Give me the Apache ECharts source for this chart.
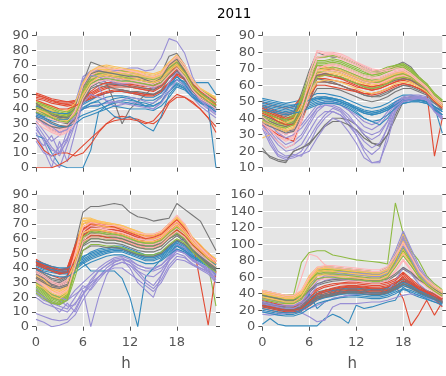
<!DOCTYPE html>
<html>
<head>
<meta charset="utf-8">
<script src="https://cdn.jsdelivr.net/npm/echarts@6/dist/echarts.min.js"></script>
<style>
  html, body { margin: 0; padding: 0; background: #ffffff; }
  #chart { width: 446px; height: 376px; }
</style>
</head>
<body>
<div id="chart"></div>
<script>
// Hourly daily profiles for 2011, one panel per quarter.
// Each row is one day (hours 0..23); rows run Monday..Sunday in weekly blocks.
const figureTitle = '2011';
const xLabel = 'h';
const hours = [0,1,2,3,4,5,6,7,8,9,10,11,12,13,14,15,16,17,18,19,20,21,22,23];
const xTicks = [0, 6, 12, 18];
const yTicksQ1 = [0,10,20,30,40,50,60,70,80,90];
const yTicksQ2 = [10,20,30,40,50,60,70,80,90];
const yTicksQ3 = [0,10,20,30,40,50,60,70,80,90];
const yTicksQ4 = [0,20,40,60,80,100,120,140,160];
const palette = ['#E24A33','#348ABD','#988ED5','#777777','#FBC15E','#8EBA42','#FFB5B8'];

const q1 = [
  [51,49,47,46,45,46,48,51,54,56,57,57,56,55,54,54,57,63,69,64,56,51,48,45],
  [41,39,38,37,37,40,44,47,49,51,52,52,51,50,48,48,51,57,62,58,52,48,46,43],
  [32,25,18,22,29,44,62,66,65,63,61,60,61,62,60,58,62,69,74,67,56,49,45,41],
  [42,38,35,33,34,40,58,72,70,68,67,66,65,64,62,61,64,76,78,70,58,52,48,45],
  [44,42,40,37,36,42,56,65,68,68,67,66,66,65,63,62,64,71,75,69,58,53,50,47],
  [43,41,39,37,36,41,54,63,66,66,65,65,64,63,62,61,63,70,74,68,58,53,49,46],
  [38,34,30,28,29,38,55,64,67,67,66,65,65,64,62,61,63,70,75,69,58,52,48,44],

  [50,48,46,45,45,45,47,50,53,55,56,56,55,54,53,53,56,62,67,63,55,50,47,44],
  [39,37,35,34,34,37,41,44,46,48,49,49,48,47,46,46,49,55,60,56,50,47,45,42],
  [28,18,5,0,15,30,50,62,63,61,60,59,60,60,59,57,61,67,71,65,55,48,44,40],
  [35,30,26,24,26,32,50,60,62,58,45,30,40,45,50,55,60,70,72,64,54,48,44,40],
  [42,40,38,35,34,40,55,63,66,67,66,65,64,63,62,61,63,69,73,67,57,52,49,45],
  [40,38,36,34,33,39,52,61,64,64,63,63,62,62,61,60,62,68,72,66,56,51,48,44],
  [36,32,27,25,27,36,53,62,65,65,65,64,63,62,61,60,62,68,72,66,56,50,47,43],

  [49,48,46,44,44,45,46,49,52,54,55,55,55,54,53,52,55,61,66,62,54,49,46,43],
  [22,20,10,2,0,0,0,12,38,42,45,46,46,45,44,42,45,52,58,55,50,46,44,40],
  [24,12,0,18,4,24,45,58,60,58,57,56,57,57,56,55,59,65,70,64,54,47,42,38],
  [40,37,34,31,30,36,48,58,60,60,59,58,58,57,56,55,58,66,70,64,55,50,46,43],
  [45,43,41,39,38,43,57,66,68,69,68,67,67,66,65,64,66,72,77,70,59,54,51,47],
  [44,42,40,38,37,42,55,64,67,67,66,66,65,64,63,62,64,71,76,69,59,53,50,46],
  [34,30,26,24,26,34,50,60,63,64,63,62,62,61,60,59,61,67,71,65,55,49,46,42],

  [20,12,8,10,10,8,10,16,24,30,34,35,34,33,31,30,34,44,48,48,45,40,34,24],
  [38,36,34,33,33,36,40,44,45,40,35,33,35,32,28,25,35,50,56,54,48,45,42,38],
  [30,22,14,8,20,35,55,60,55,45,42,43,45,44,42,40,45,55,65,60,50,44,40,36],
  [38,34,31,29,28,35,46,55,58,57,57,56,55,55,54,53,56,64,68,62,54,48,45,42],
  [43,41,39,36,35,41,56,64,67,67,66,65,65,64,63,62,64,70,74,68,57,52,49,46],
  [42,40,37,35,34,40,53,62,65,66,65,64,64,63,62,61,63,69,73,67,57,52,48,45],
  [37,33,29,27,28,37,54,63,66,66,66,65,64,63,62,61,63,69,74,68,57,51,48,44],

  [0,0,0,2,5,10,15,20,25,30,32,33,33,32,30,32,38,45,50,48,44,40,34,28],
  [42,40,38,37,37,39,43,46,49,51,52,53,52,51,50,50,52,57,60,59,58,58,58,50],
  [26,20,12,10,18,40,60,66,66,65,66,67,68,68,66,67,75,88,86,78,62,52,46,42],
  [41,38,36,34,33,37,50,60,62,62,61,60,59,58,57,56,59,67,71,65,56,50,47,44],
  [41,39,37,34,33,39,53,62,65,66,65,64,63,63,62,61,63,69,73,67,57,51,48,44],
  [39,37,35,33,32,37,50,59,62,63,62,61,61,60,59,58,60,66,70,64,55,50,46,43],
  [35,31,28,26,27,35,52,61,64,65,64,63,63,62,61,60,62,68,72,66,56,50,47,43],

  [48,47,45,44,43,44,45,47,49,51,52,52,51,50,49,49,52,58,63,60,53,48,45,42],
  [36,34,32,31,31,33,36,38,40,42,44,45,44,43,42,42,45,52,57,54,49,45,42,0],
  [20,15,22,10,25,35,40,42,43,44,45,44,43,42,41,40,44,52,60,56,48,42,38,34],
  [44,40,37,35,34,38,52,62,64,63,62,61,60,60,59,58,61,68,72,66,57,51,48,45],
  [40,38,36,33,32,38,52,60,63,64,63,62,61,61,60,59,61,67,71,65,56,50,47,43],
  [45,43,41,39,38,42,54,62,64,65,64,63,63,62,61,60,62,68,72,66,57,52,49,46],
  [33,29,25,23,25,33,49,58,61,62,61,60,60,59,58,57,59,65,70,64,54,48,45,41],

  [47,46,44,43,42,43,46,52,56,58,58,57,57,56,55,56,58,64,70,65,57,52,49,46],
  [37,35,34,33,33,36,40,42,42,45,47,48,47,45,42,44,48,56,62,57,50,47,44,41],
  [35,30,28,24,26,38,56,63,62,60,58,57,58,58,56,54,58,64,68,62,52,46,43,39],
  [43,40,36,34,35,41,55,64,66,65,64,63,62,62,60,58,61,70,74,66,56,50,47,44],
  [46,44,42,40,39,44,58,66,69,70,69,68,67,66,64,63,65,72,76,70,60,54,51,48],
  [41,39,37,36,35,40,52,60,62,63,62,62,61,60,59,58,60,66,70,65,56,51,47,44],
  [39,36,33,31,31,39,56,65,68,68,67,67,66,65,63,62,64,71,76,70,59,53,49,45],

  [46,44,42,40,40,42,45,48,50,52,53,53,52,51,50,50,53,58,64,61,54,49,46,43],
  [35,33,30,28,28,30,34,36,38,40,42,41,40,40,40,39,42,48,55,53,48,44,42,40],
  [18,10,8,14,20,30,44,50,48,46,45,46,48,47,45,44,48,58,66,62,52,46,41,37],
  [34,31,28,27,28,33,45,54,56,55,54,53,52,52,51,50,53,61,66,60,52,47,44,41],
  [40,38,35,32,31,37,50,58,62,63,62,61,60,60,59,58,60,66,70,64,55,50,46,42],
  [38,36,34,32,31,36,48,57,60,61,60,59,59,58,57,56,58,64,68,63,54,49,45,42],
  [31,27,24,22,24,31,47,56,59,60,59,58,58,57,56,55,57,63,68,62,53,47,44,40]
];

const q2 = [
  [48,46,44,43,44,52,62,72,71,70,68,66,64,62,61,62,64,66,67,65,62,59,52,48],
  [52,51,50,49,50,51,53,55,55,54,53,51,49,47,46,47,49,52,54,54,53,52,49,47],
  [42,37,33,30,33,36,42,48,50,50,48,45,42,38,36,38,44,50,53,54,54,53,47,42],
  [46,44,42,41,43,55,69,80,78,77,77,75,73,71,69,68,70,72,74,71,65,60,54,50],
  [44,42,40,38,40,50,61,70,71,71,70,68,66,64,63,64,66,68,68,66,63,60,54,50],
  [45,43,41,40,42,52,65,75,75,76,75,73,71,69,67,68,70,72,73,70,65,61,55,51],
  [42,38,35,32,34,48,66,80,79,79,78,76,74,71,69,69,70,71,71,68,64,60,54,50],

  [50,48,47,46,47,53,61,68,67,66,64,63,61,60,59,60,62,64,65,64,62,56,17,40],
  [50,49,48,47,48,49,51,53,53,52,51,49,47,45,44,45,47,50,52,52,52,51,47,31],
  [38,28,20,17,18,17,24,34,40,44,42,36,30,22,18,22,35,48,52,53,53,52,45,40],
  [22,16,14,13,20,22,25,30,36,40,40,39,36,30,25,23,30,42,52,53,52,50,46,42],
  [40,38,36,34,36,45,56,66,67,67,66,65,63,61,60,61,63,65,66,64,61,58,52,48],
  [43,41,40,38,40,50,63,74,74,75,74,72,70,68,66,67,69,71,72,69,64,60,54,50],
  [40,36,32,28,30,44,61,76,77,78,76,74,72,69,67,67,68,69,70,67,63,59,53,49],

  [45,43,41,39,40,50,60,70,70,69,68,66,64,62,61,61,63,65,66,64,61,58,52,48],
  [49,48,47,46,47,48,50,52,52,51,50,48,46,44,43,44,46,49,51,52,51,50,47,45],
  [36,26,18,16,17,20,28,36,42,46,44,38,30,20,13,13,30,46,51,52,52,51,45,40],
  [20,17,15,14,20,22,24,30,35,38,38,36,33,28,25,24,30,40,50,51,51,50,45,41],
  [28,30,33,35,37,46,58,64,66,66,65,64,62,60,59,60,62,64,65,63,60,57,52,48],
  [44,42,40,39,41,53,67,77,77,78,77,75,73,70,68,69,71,72,73,70,65,61,55,51],
  [44,40,36,32,33,48,67,81,80,80,79,77,74,72,70,69,70,71,71,68,64,60,54,50],

  [47,45,43,42,43,50,57,64,64,63,62,61,59,58,57,58,60,62,63,62,60,57,51,47],
  [48,47,46,45,46,47,49,51,52,52,51,49,46,44,43,44,46,49,51,51,51,50,47,44],
  [40,34,28,24,26,30,38,46,50,50,48,45,40,35,33,36,42,49,52,53,53,52,46,41],
  [44,42,40,39,41,50,60,70,70,70,69,67,65,63,62,63,65,67,68,66,62,58,52,48],
  [42,40,38,36,38,48,59,68,69,69,68,66,64,62,61,62,64,66,67,65,62,59,53,49],
  [42,40,38,37,39,49,61,72,72,73,72,70,68,66,65,66,68,70,71,68,64,60,54,50],
  [36,32,29,27,29,40,55,68,70,71,70,68,66,64,63,63,65,67,68,66,62,58,52,48],

  [44,42,40,37,36,46,56,66,67,66,65,63,61,60,59,60,61,63,64,63,60,57,51,47],
  [47,46,45,44,45,46,48,50,51,51,50,48,45,43,42,43,45,48,50,51,51,50,47,44],
  [34,24,17,15,16,18,20,28,35,40,38,32,25,16,13,14,26,44,50,51,52,51,44,39],
  [42,40,38,36,38,46,55,64,63,62,60,58,56,54,53,53,55,58,60,60,58,56,51,47],
  [41,39,37,35,37,47,58,67,68,68,67,65,63,61,60,61,63,65,66,64,61,58,52,48],
  [41,39,37,36,38,48,60,70,70,71,70,68,66,64,63,64,66,68,69,67,63,59,53,49],
  [38,34,30,28,30,42,57,70,72,73,72,70,68,66,65,65,67,68,69,66,62,58,52,48],

  [36,33,30,28,26,38,50,62,62,61,60,58,57,55,55,56,58,60,61,60,58,56,50,46],
  [46,45,44,43,44,45,47,49,50,50,49,47,44,40,38,36,40,47,49,50,50,49,46,42],
  [38,32,26,22,24,28,36,44,48,48,46,42,36,30,27,30,38,48,52,52,53,52,45,40],
  [38,36,34,32,33,42,52,62,62,61,60,58,56,54,53,54,56,58,60,59,57,55,50,46],
  [39,37,35,33,35,45,56,65,66,66,65,63,61,59,58,59,61,63,64,62,60,57,51,47],
  [40,38,36,35,37,47,58,68,68,69,68,66,64,62,61,62,64,66,67,65,62,58,52,48],
  [34,30,26,22,24,38,53,66,68,69,68,66,64,62,61,61,63,65,66,64,61,57,51,47],

  [46,44,42,40,41,49,58,66,66,65,64,62,60,58,57,58,60,62,64,63,61,58,51,47],
  [51,50,49,48,48,49,51,52,53,52,50,48,46,43,42,43,45,48,51,51,51,50,47,44],
  [40,36,31,28,30,34,40,46,48,47,45,40,36,32,30,32,38,47,51,52,53,52,45,41],
  [40,38,36,35,37,46,57,66,67,66,65,63,61,59,58,59,61,63,64,63,60,57,52,48],
  [43,41,39,37,39,48,60,69,70,70,69,67,65,63,62,63,65,67,68,66,62,59,53,49],
  [44,42,40,39,41,51,64,73,73,74,73,71,69,67,66,67,69,71,72,69,64,60,54,50],
  [41,37,33,30,32,46,63,77,78,79,77,75,73,70,68,68,69,70,70,67,63,59,53,49],

  [43,41,38,36,36,44,54,60,60,59,58,57,56,55,54,55,57,59,61,60,58,55,50,46],
  [45,44,43,42,43,44,46,48,49,49,48,46,43,40,38,39,42,46,49,50,50,49,45,42],
  [36,30,24,20,21,24,32,40,44,44,42,38,32,26,22,25,34,45,50,51,52,51,44,39],
  [37,35,33,31,32,40,50,58,58,58,57,55,53,51,50,51,53,56,58,58,56,54,49,45],
  [38,36,34,32,34,43,54,62,63,63,62,60,58,56,55,56,58,61,62,61,59,56,51,47],
  [39,37,35,34,36,45,56,65,66,66,65,63,61,59,58,59,61,64,65,64,61,57,52,48],
  [37,33,29,26,28,40,56,70,72,72,71,69,67,65,64,64,66,68,69,66,62,58,52,48]
];

const q3 = [
  [45,42,40,38,40,56,70,72,71,70,69,68,66,64,62,62,65,70,74,68,60,55,50,45],
  [44,42,41,40,40,44,48,50,52,53,54,54,52,50,48,48,50,54,58,55,50,47,44,42],
  [9,7,5,4,5,12,22,30,38,42,45,46,44,40,38,38,40,45,52,50,45,42,40,36],
  [40,36,33,32,35,56,78,82,82,83,84,83,78,75,74,72,73,74,84,80,76,72,62,52],
  [30,27,22,20,24,50,74,74,72,71,70,69,67,65,63,63,65,70,75,70,61,56,50,46],
  [26,22,18,16,20,40,60,64,63,62,62,61,59,57,56,56,58,63,66,62,55,50,45,40],
  [36,33,29,27,30,48,66,68,67,66,66,65,63,61,60,60,62,67,71,66,58,53,48,44],

  [44,41,39,37,38,54,67,70,69,68,67,66,64,62,61,61,63,68,72,66,59,54,49,44],
  [43,41,40,39,39,43,46,49,51,52,53,53,51,49,47,47,49,53,57,54,49,46,43,41],
  [5,3,0,1,3,8,18,26,34,40,44,46,45,42,40,39,42,48,55,52,46,42,38,34],
  [38,34,31,30,33,48,64,68,68,67,66,65,63,60,59,59,61,66,70,65,57,52,47,43],
  [28,25,20,18,22,48,72,73,71,70,69,68,66,64,62,62,64,69,74,69,60,55,49,45],
  [24,20,16,16,20,38,56,60,60,59,59,58,56,54,53,53,55,60,63,60,53,48,42,14],
  [34,31,27,25,28,46,64,67,66,65,65,64,62,60,59,59,61,66,70,65,57,52,47,43],

  [43,40,38,36,37,50,64,68,68,67,66,65,63,61,60,60,62,67,72,65,59,30,1,38],
  [42,40,39,38,38,41,44,38,38,38,38,33,20,0,34,40,46,50,55,52,48,45,42,40],
  [30,25,20,18,14,15,25,0,20,35,44,46,40,30,25,20,35,45,50,48,42,40,38,32],
  [35,32,29,28,31,46,60,64,64,63,62,61,59,57,56,56,58,63,67,62,55,50,45,41],
  [32,29,25,23,26,48,70,71,70,69,68,67,65,63,61,61,63,68,72,67,59,54,49,45],
  [28,24,20,18,21,40,58,62,62,61,61,60,58,56,55,55,57,62,65,61,54,49,44,40],
  [33,30,26,24,27,45,62,65,65,64,64,63,61,59,58,58,60,65,69,64,56,51,46,42],

  [46,43,41,39,40,55,68,71,70,69,68,67,65,63,62,62,64,69,73,67,60,55,50,45],
  [41,39,38,37,37,40,44,47,49,51,52,52,50,48,46,46,48,52,56,53,48,45,42,35],
  [22,18,16,14,12,20,28,25,32,38,42,44,42,38,35,34,38,46,56,54,46,42,38,30],
  [39,35,32,31,34,49,63,66,66,65,64,63,61,59,58,58,60,65,69,64,56,51,47,43],
  [34,31,26,24,27,50,72,72,71,70,69,68,66,64,62,62,64,69,73,68,60,55,50,46],
  [29,25,21,19,22,42,60,63,62,62,61,60,58,56,55,55,57,62,66,62,55,50,45,38],
  [35,32,28,26,29,47,64,66,66,65,65,64,62,60,59,59,61,66,70,65,57,52,47,43],

  [45,42,40,38,39,53,66,69,69,68,67,66,64,62,61,61,63,68,71,66,59,54,49,44],
  [40,38,37,36,36,39,43,46,48,50,51,51,49,47,45,45,47,51,55,52,48,45,42,40],
  [26,20,15,10,16,10,22,32,38,42,46,47,44,38,32,28,35,45,52,50,45,42,39,35],
  [37,33,30,29,32,46,58,62,62,61,61,60,58,56,55,55,57,61,64,60,54,50,45,41],
  [31,28,23,21,25,46,68,70,69,68,67,66,64,62,60,60,62,67,71,66,58,53,48,44],
  [27,23,19,17,21,42,62,66,65,64,63,62,60,58,57,57,59,64,67,63,56,51,46,42],
  [32,29,25,23,26,44,60,63,63,62,62,61,59,57,56,56,58,63,67,63,55,50,46,42],

  [44,41,39,37,38,50,62,66,66,65,64,63,61,59,58,58,60,65,69,64,58,53,48,44],
  [42,40,39,38,38,41,45,48,50,52,53,53,51,49,47,47,49,53,58,60,52,48,45,42],
  [24,20,17,15,18,25,30,35,40,44,47,48,46,42,40,40,42,47,53,51,46,43,40,36],
  [36,32,29,28,31,44,56,60,60,59,59,58,56,54,53,53,55,60,63,59,53,49,44,40],
  [33,30,25,22,26,48,70,72,70,69,68,67,65,63,61,61,63,68,72,67,59,54,49,45],
  [25,21,17,15,19,38,57,61,61,60,60,59,57,55,54,54,56,61,64,60,53,48,43,39],
  [37,34,30,28,31,48,66,69,68,67,67,66,64,62,61,61,63,68,72,67,58,53,48,44],

  [42,40,38,36,37,52,66,70,70,69,68,66,64,62,60,61,63,68,73,67,60,55,50,45],
  [45,43,41,40,40,43,47,51,53,54,55,55,53,51,49,49,51,55,59,56,51,48,45,43],
  [32,26,22,20,18,22,26,30,34,38,42,44,42,36,30,26,32,42,48,47,43,40,37,33],
  [34,31,28,27,29,42,55,58,58,57,57,56,54,52,51,51,53,58,62,58,52,48,43,39],
  [35,32,27,25,28,50,72,73,72,71,70,69,67,65,63,63,65,70,74,69,60,55,50,46],
  [30,26,22,20,23,42,61,65,64,63,63,62,60,58,57,57,59,64,68,64,56,51,46,41],
  [38,35,31,29,32,50,68,71,70,69,69,68,66,64,63,63,65,70,76,70,60,54,49,45],

  [40,37,35,33,34,46,58,62,62,61,60,59,57,55,54,54,56,61,66,62,56,51,47,43],
  [39,37,35,34,34,37,41,44,46,48,49,49,47,45,43,43,45,49,53,51,47,44,41,38],
  [20,16,14,12,10,16,22,28,34,38,40,40,36,32,28,24,30,40,46,45,42,39,36,30],
  [33,30,27,26,28,40,52,55,55,54,54,53,51,49,48,48,50,55,59,56,51,47,42,38],
  [29,26,21,19,23,44,64,66,66,65,64,63,61,59,58,58,60,65,69,64,57,52,47,43],
  [23,19,16,15,18,34,52,56,56,55,55,54,52,50,49,49,51,56,60,57,51,46,41,37],
  [31,28,24,22,25,41,58,61,61,60,60,59,57,55,54,54,56,61,65,61,54,49,45,41]
];

const q4 = [
  [30,28,25,22,21,24,32,40,44,46,48,49,49,48,47,46,48,52,60,52,45,40,36,32],
  [28,26,24,22,21,23,30,36,38,40,42,43,43,42,41,41,43,48,55,50,44,40,36,32],
  [36,34,32,30,30,35,45,58,60,61,61,60,60,59,58,58,62,80,115,90,70,58,48,40],
  [32,30,28,26,26,28,34,40,42,44,45,46,46,45,44,44,46,50,56,52,46,42,38,34],
  [42,40,38,36,36,42,60,70,70,69,68,67,66,65,64,64,68,85,110,88,68,56,48,42],
  [44,42,40,38,39,78,90,92,92,87,85,83,81,80,79,78,76,150,113,92,80,62,52,45],
  [38,36,34,32,32,60,88,85,75,72,70,69,68,67,66,65,68,80,95,80,65,55,47,40],

  [25,23,21,20,20,22,28,36,40,43,45,46,46,45,44,44,46,50,34,1,15,32,14,30],
  [3,10,3,1,1,1,1,1,10,15,11,4,26,22,24,27,30,32,48,40,36,33,30,28],
  [15,14,15,18,18,17,12,6,8,24,28,28,28,29,30,30,32,35,38,40,38,35,32,25],
  [26,24,22,20,20,22,28,34,36,38,40,41,41,40,39,39,41,45,50,46,41,37,33,29],
  [40,38,36,34,34,40,56,66,67,66,65,64,63,62,61,61,65,80,100,82,64,54,46,40],
  [40,38,36,35,35,40,56,68,70,70,69,68,67,66,65,65,69,84,104,86,67,56,48,42],
  [36,34,32,30,30,36,50,60,62,62,61,60,59,58,57,57,60,72,88,74,60,51,44,38],

  [34,32,30,28,27,30,38,46,50,52,53,54,54,53,52,52,54,58,66,58,50,44,40,35],
  [30,28,26,24,24,26,34,40,42,44,46,47,47,46,45,45,47,52,58,52,46,42,38,34],
  [38,36,34,32,32,38,52,68,72,72,71,70,69,68,67,67,72,92,116,95,74,60,50,42],
  [34,32,30,28,28,30,36,42,44,46,47,48,48,47,46,46,48,52,58,54,48,44,40,36],
  [44,42,40,38,38,44,62,72,73,72,71,70,69,68,67,67,71,88,112,90,70,58,50,44],
  [42,40,38,37,37,42,58,70,72,72,71,70,69,68,67,67,71,86,106,88,69,57,49,43],
  [40,38,36,34,34,40,55,66,68,68,67,66,65,64,63,63,67,80,98,82,66,55,47,41],

  [22,20,18,17,17,19,25,32,36,39,41,42,42,41,40,40,42,46,52,48,42,38,34,24],
  [24,22,20,19,19,21,28,34,36,38,40,41,41,40,39,39,41,46,52,48,42,38,34,30],
  [32,30,28,26,26,30,40,55,60,62,62,62,61,60,60,60,64,82,105,86,68,56,47,40],
  [36,34,32,30,30,33,42,50,53,55,56,56,56,55,54,54,56,62,70,64,56,50,44,38],
  [38,36,34,32,32,38,54,64,65,64,63,62,61,60,59,59,63,76,94,78,62,52,45,39],
  [38,36,34,33,33,38,54,66,68,68,67,66,65,64,63,63,67,80,98,82,65,55,47,41],
  [34,32,30,28,28,34,48,58,60,60,59,58,57,56,55,55,58,68,82,70,57,49,42,36],

  [28,26,24,22,22,24,30,38,42,45,47,48,48,47,46,46,48,52,62,54,46,42,38,34],
  [20,18,16,15,15,18,40,22,30,34,36,38,38,37,36,36,38,42,46,44,40,36,33,28],
  [18,16,15,16,18,20,22,26,30,34,36,38,39,40,40,41,44,55,72,64,52,44,38,30],
  [30,28,26,24,24,26,32,38,40,42,44,45,45,44,43,43,45,49,55,50,44,40,36,32],
  [41,39,37,35,35,41,58,68,69,68,67,66,65,64,63,63,67,82,104,84,66,55,47,41],
  [39,37,35,34,34,39,55,67,69,69,68,67,66,65,64,64,68,82,100,84,66,55,47,41],
  [42,40,38,36,36,42,58,70,72,72,71,70,69,68,67,67,71,84,100,84,67,56,48,42],

  [24,22,20,18,18,20,26,34,38,41,43,44,44,43,42,42,44,48,55,50,44,40,36,30],
  [26,24,22,20,20,22,30,36,38,40,42,43,43,42,41,41,43,48,54,50,44,40,36,32],
  [34,32,30,28,28,33,44,62,66,67,67,66,65,64,64,64,68,88,110,90,70,58,48,41],
  [28,26,24,22,22,24,30,36,38,40,42,43,43,42,41,41,43,47,52,48,42,38,34,30],
  [43,41,39,37,37,43,60,70,71,70,69,68,67,66,65,65,69,86,108,88,68,57,49,43],
  [37,35,33,32,32,37,52,64,66,66,65,64,63,62,61,61,65,78,96,80,64,54,46,40],
  [36,34,32,30,30,36,52,62,64,64,63,62,61,60,59,59,62,74,90,76,61,52,45,39],

  [32,30,27,25,24,27,35,44,48,50,52,52,52,51,50,50,52,56,64,56,48,43,39,34],
  [22,20,18,17,17,20,26,32,35,37,39,40,40,39,38,38,40,44,50,47,42,38,34,30],
  [30,28,26,25,25,30,42,56,62,64,64,63,63,62,61,61,65,84,108,88,69,57,47,40],
  [26,24,22,21,21,23,28,34,36,38,40,41,41,40,39,39,41,46,52,48,42,38,34,30],
  [40,38,36,34,34,40,57,67,68,67,66,65,64,63,62,62,66,82,102,84,66,55,47,41],
  [35,33,31,30,30,35,50,62,64,64,63,62,61,60,59,59,63,76,92,78,62,52,45,39],
  [33,31,29,27,27,32,46,56,58,58,57,56,55,54,53,53,56,66,80,68,56,48,41,35],

  [26,24,22,20,20,22,30,40,44,47,49,50,50,49,48,48,50,54,58,52,46,41,37,32],
  [18,16,14,13,13,16,22,28,31,33,35,36,36,35,34,34,36,40,45,42,38,34,30,26],
  [28,26,24,22,22,27,36,50,56,58,58,57,57,56,56,56,60,76,98,82,64,53,44,37],
  [38,36,34,32,32,35,44,52,55,57,58,58,58,57,56,56,58,64,72,66,57,51,45,39],
  [36,34,32,30,30,36,52,62,63,62,61,60,59,58,57,57,61,74,90,76,60,51,44,38],
  [33,31,29,28,28,33,47,58,60,60,59,58,57,56,55,55,59,72,86,74,60,50,43,37],
  [44,42,40,38,38,44,60,72,74,74,73,72,71,70,69,69,73,86,102,86,68,57,49,43]
];

const panels = [
  { rows: q1, yTicks: yTicksQ1, bottomRow: false },
  { rows: q2, yTicks: yTicksQ2, bottomRow: false },
  { rows: q3, yTicks: yTicksQ3, bottomRow: true },
  { rows: q4, yTicks: yTicksQ4, bottomRow: true }
];

// plot boxes in pixels (2 x 2 layout)
const boxes = [
  { left: 36,    top: 35.7,  width: 180, height: 132 },
  { left: 262.3, top: 35.7,  width: 180, height: 132 },
  { left: 36,    top: 194.7, width: 180, height: 132 },
  { left: 262.3, top: 194.7, width: 180, height: 132 }
];

const FONT = 'DejaVu Sans';
const TICK_COLOR = '#555555';
const tickStyle = { show: true, inside: false, length: 4, lineStyle: { color: TICK_COLOR, width: 1 } };

const grid = [], xAxis = [], yAxis = [], series = [];

panels.forEach((p, k) => {
  const b = boxes[k];
  grid.push({
    left: b.left, top: b.top, width: b.width, height: b.height,
    show: true, backgroundColor: '#E5E5E5', borderWidth: 0, containLabel: false
  });

  const xMin = hours[0], xMax = hours[hours.length - 1];
  const yMin = p.yTicks[0], yMax = p.yTicks[p.yTicks.length - 1];
  const yStep = p.yTicks[1] - p.yTicks[0];

  // bottom x axis (labels only on the lower row)
  xAxis.push({
    gridIndex: k, type: 'value', position: 'bottom', min: xMin, max: xMax, interval: 6,
    axisLine: { show: false, onZero: false },
    axisTick: Object.assign({ customValues: xTicks }, tickStyle),
    axisLabel: {
      show: p.bottomRow, customValues: xTicks, margin: 9,
      fontFamily: FONT, fontSize: 13, color: TICK_COLOR
    },
    splitLine: { show: true, lineStyle: { color: '#ffffff', width: 1 } },
    name: p.bottomRow ? xLabel : '',
    nameLocation: 'middle', nameGap: 30,
    nameTextStyle: { fontFamily: FONT, fontSize: 15, color: TICK_COLOR }
  });
  // top x axis: tick marks only
  xAxis.push({
    gridIndex: k, type: 'value', position: 'top', min: xMin, max: xMax, interval: 6,
    axisLine: { show: false, onZero: false },
    axisTick: Object.assign({ customValues: xTicks }, tickStyle),
    axisLabel: { show: false },
    splitLine: { show: false }
  });

  // left y axis
  yAxis.push({
    gridIndex: k, type: 'value', position: 'left', min: yMin, max: yMax, interval: yStep,
    axisLine: { show: false, onZero: false },
    axisTick: tickStyle,
    axisLabel: { show: true, margin: 7, fontFamily: FONT, fontSize: 13, color: TICK_COLOR },
    splitLine: { show: true, lineStyle: { color: '#ffffff', width: 1 } }
  });
  // right y axis: tick marks only
  yAxis.push({
    gridIndex: k, type: 'value', position: 'right', min: yMin, max: yMax, interval: yStep,
    axisLine: { show: false, onZero: false },
    axisTick: tickStyle,
    axisLabel: { show: false },
    splitLine: { show: false }
  });

  p.rows.forEach((row, j) => {
    const c = palette[j % palette.length];
    series.push({
      type: 'line',
      xAxisIndex: 2 * k,
      yAxisIndex: 2 * k,
      data: hours.map((h, i) => [h, row[i]]),
      showSymbol: false,
      symbol: 'none',
      silent: true,
      clip: true,
      lineStyle: { width: 1.1, color: c },
      itemStyle: { color: c },
      emphasis: { disabled: true }
    });
  });
});

const chart = echarts.init(document.getElementById('chart'), null, { renderer: 'canvas' });
chart.setOption({
  animation: false,
  backgroundColor: '#ffffff',
  title: {
    text: figureTitle, left: 217, top: 7, padding: 0,
    textStyle: { fontFamily: FONT, fontSize: 13.5, fontWeight: 'normal', color: '#000000' }
  },
  grid: grid,
  xAxis: xAxis,
  yAxis: yAxis,
  series: series
});
</script>
</body>
</html>
